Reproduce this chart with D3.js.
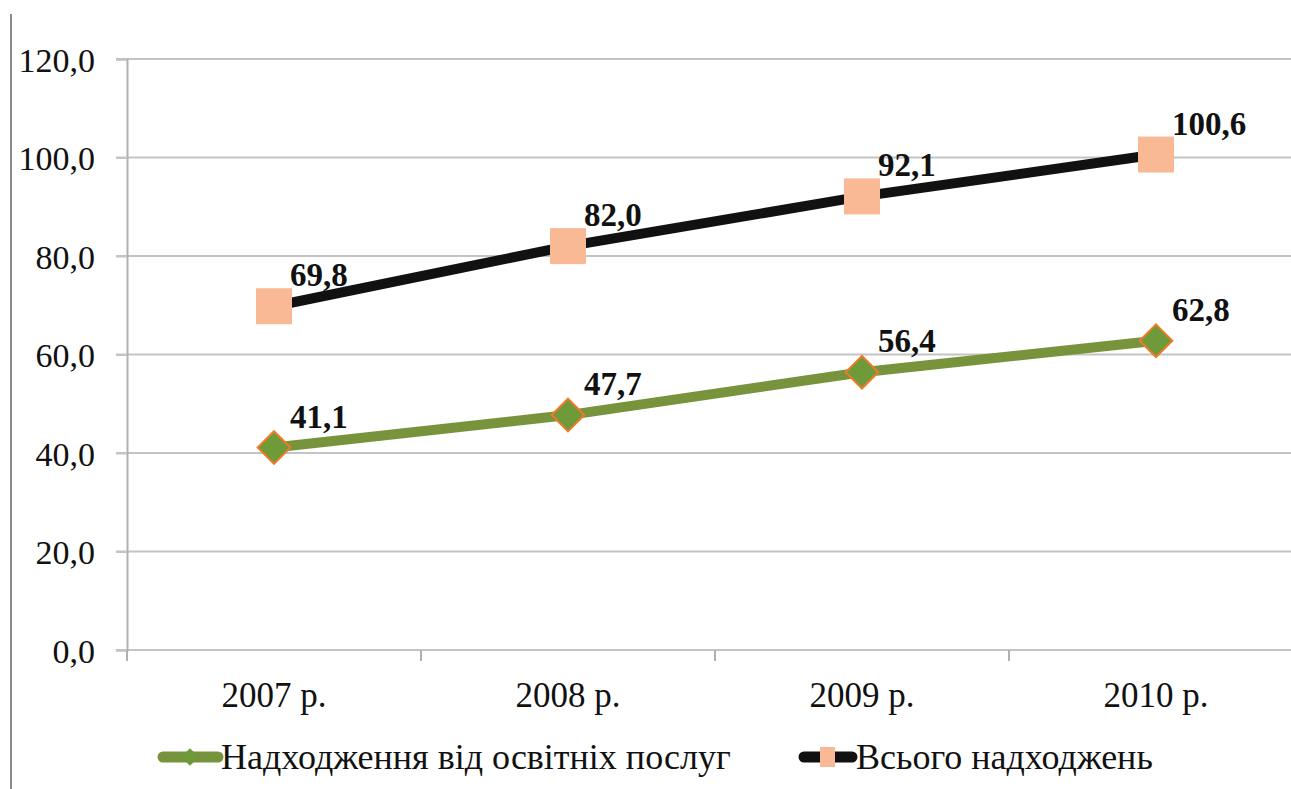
<!DOCTYPE html>
<html><head><meta charset="utf-8">
<script src="https://cdn.jsdelivr.net/npm/d3@7"></script>
<style>body{margin:0;background:#fff}svg{display:block}</style>
</head><body>
<script>
const categories = ["2007 р.", "2008 р.", "2009 р.", "2010 р."];
const seriesNames = ["Надходження від освітніх послуг", "Всього надходжень"];
const eduValues = [41.1, 47.7, 56.4, 62.8];
const totalValues = [69.8, 82.0, 92.1, 100.6];
const yTicks = [0, 20, 40, 60, 80, 100, 120];

const W = 1291, H = 789;
const svg = d3.select("body").append("svg").attr("width", W).attr("height", H);
const fmt = v => d3.format(".1f")(v).replace(".", ",");
const font = "'Liberation Serif','Times New Roman','DejaVu Serif',serif";

const x = d3.scaleBand().domain(categories).range([127, 1303]);
const y = d3.scaleLinear().domain([0, 120]).range([650, 59]);
const cx = c => x(c) + x.bandwidth() / 2;

// outer left rule
svg.append("line").attr("x1", 11).attr("x2", 11).attr("y1", 14).attr("y2", H)
  .attr("stroke", "#8c8c8c").attr("stroke-width", 2);

// gridlines
svg.append("g").selectAll("line").data(yTicks).join("line")
  .attr("x1", 116).attr("x2", W).attr("y1", d => y(d)).attr("y2", d => y(d))
  .attr("stroke", "#c4c4c4").attr("stroke-width", 2);

// y axis
const yAxis = svg.append("g").attr("transform", "translate(127,0)")
  .call(d3.axisLeft(y).tickValues(yTicks).tickFormat(fmt).tickSize(11).tickPadding(21));
yAxis.select(".domain").attr("stroke", "#b0b0b0").attr("stroke-width", 2);
yAxis.selectAll(".tick line").attr("stroke", "#c4c4c4").attr("stroke-width", 2);
yAxis.selectAll("text").attr("font-family", font).attr("font-size", 34).attr("fill", "#111").attr("dy", "0.36em");

// x axis
const xAxis = svg.append("g").attr("transform", "translate(0,650)")
  .call(d3.axisBottom(x).tickSize(0).tickPadding(32));
xAxis.select(".domain").remove();
xAxis.selectAll("text").attr("font-family", font).attr("font-size", 35).attr("fill", "#111");
const bounds = categories.map(c => x(c)).concat([x(categories[3]) + x.bandwidth()]);
svg.append("g").selectAll("line").data(bounds).join("line")
  .attr("x1", d => d).attr("x2", d => d).attr("y1", 650).attr("y2", 661)
  .attr("stroke", "#b0b0b0").attr("stroke-width", 2);

const line = d3.line().x((d, i) => cx(categories[i])).y(d => y(d));

// total series
svg.append("path").datum(totalValues).attr("d", line)
  .attr("fill", "none").attr("stroke", "#111").attr("stroke-width", 10).attr("stroke-linecap", "round");
svg.append("g").selectAll("rect").data(totalValues).join("rect")
  .attr("x", (d, i) => cx(categories[i]) - 18).attr("y", d => y(d) - 18)
  .attr("width", 36).attr("height", 36).attr("fill", "#f9b995");

// education series
svg.append("path").datum(eduValues).attr("d", line)
  .attr("fill", "none").attr("stroke", "#77933c").attr("stroke-width", 10).attr("stroke-linecap", "round");
const diamond = d3.symbol().type(d3.symbolDiamond2).size(680);
svg.append("g").selectAll("path").data(eduValues).join("path")
  .attr("d", diamond)
  .attr("transform", (d, i) => `translate(${cx(categories[i])},${y(d)})`)
  .attr("fill", "#6f9a3a").attr("stroke", "#ee7a2a").attr("stroke-width", 2);

// data labels
function labels(vals) {
  svg.append("g").selectAll("text").data(vals).join("text")
    .attr("x", (d, i) => cx(categories[i]) + 16).attr("y", d => y(d) - 20)
    .attr("font-family", font).attr("font-size", 33).attr("font-weight", "bold").attr("fill", "#111")
    .text(fmt);
}
labels(totalValues);
labels(eduValues);

// legend
const lg = svg.append("g");
lg.append("line").attr("x1", 163).attr("x2", 218).attr("y1", 757).attr("y2", 757)
  .attr("stroke", "#77933c").attr("stroke-width", 11).attr("stroke-linecap", "round");
lg.append("path").attr("d", d3.symbol().type(d3.symbolDiamond2).size(200))
  .attr("transform", "translate(190,757)").attr("fill", "#6f9a3a");
lg.append("text").attr("x", 221).attr("y", 769).attr("font-family", font).attr("font-size", 36)
  .attr("fill", "#111").text(seriesNames[0]);
lg.append("line").attr("x1", 804).attr("x2", 852).attr("y1", 757).attr("y2", 757)
  .attr("stroke", "#111").attr("stroke-width", 11).attr("stroke-linecap", "round");
lg.append("rect").attr("x", 820).attr("y", 747).attr("width", 15).attr("height", 20).attr("fill", "#f9b995");
lg.append("text").attr("x", 856).attr("y", 769).attr("font-family", font).attr("font-size", 36)
  .attr("fill", "#111").text(seriesNames[1]);
</script>
</body></html>
